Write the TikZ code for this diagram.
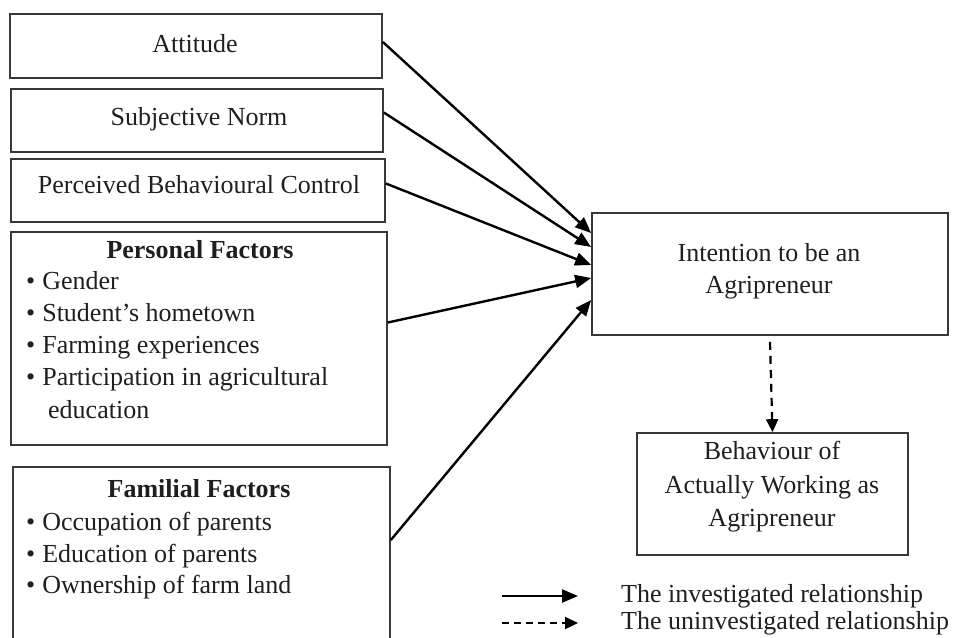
\documentclass[tikz,border=0pt]{standalone}
\usepackage{fontspec}
\setmainfont{Liberation Serif}
\usetikzlibrary{arrows.meta}
\begin{document}
\begin{tikzpicture}[x=1pt,y=-1pt,
  box/.style={draw=black!78,line width=1.7pt,rectangle,inner sep=0pt},
  txt/.style={font=\fontsize{26}{32.5}\selectfont,inner sep=0pt,text=black!88,anchor=base},
  lft/.style={txt,anchor=base west},
  rel/.style={line width=2.4pt,-{Triangle[length=16pt,width=13pt]}},
  unrel/.style={line width=2.2pt,dash pattern=on 8pt off 6pt,-{Triangle[length=13pt,width=12pt]}}]
\useasboundingbox (0,0) rectangle (955,637);
% boxes
\node[box,minimum width=372pt,minimum height=64pt] (att) at (196,46) {};
\node[box,minimum width=372pt,minimum height=63pt] (sn) at (197,120.5) {};
\node[box,minimum width=374pt,minimum height=63pt] (pbc) at (198,190.5) {};
\node[box,minimum width=376pt,minimum height=213pt] (pf) at (199,338.5) {};
\node[box,minimum width=377pt,minimum height=200pt] (ff) at (201.5,567) {};
\node[box,minimum width=356pt,minimum height=122pt] (int) at (770,274) {};
\node[box,minimum width=271pt,minimum height=122pt] (beh) at (772.5,494) {};
% texts
\node[txt] (tatt) at (195,52) {Attitude};
\node[txt] (tsn) at (199,125) {Subjective Norm};
\node[txt] (tpbc) at (199,193) {Perceived Behavioural Control};
\node[txt,font=\fontsize{26}{32.5}\selectfont\bfseries] (tpf) at (200,258) {Personal Factors};
\node[lft] (pf1) at (26,289) {\textbullet\hspace{7pt}Gender};
\node[lft] (pf2) at (26,321) {\textbullet\hspace{7pt}Student’s hometown};
\node[lft] (pf3) at (26,353) {\textbullet\hspace{7pt}Farming experiences};
\node[lft] (pf4) at (26,385) {\textbullet\hspace{7pt}Participation in agricultural};
\node[lft] (pf5) at (48,418) {education};
\node[txt,font=\fontsize{26}{32.5}\selectfont\bfseries] (tff) at (199,497) {Familial Factors};
\node[lft] (ff1) at (26,530) {\textbullet\hspace{7pt}Occupation of parents};
\node[lft] (ff2) at (26,562) {\textbullet\hspace{7pt}Education of parents};
\node[lft] (ff3) at (26,593) {\textbullet\hspace{7pt}Ownership of farm land};
\node[txt] (tint1) at (769,261) {Intention to be an};
\node[txt] (tint2) at (769,293) {Agripreneur};
\node[txt] (tbeh1) at (772,459) {Behaviour of};
\node[txt] (tbeh2) at (772,493) {Actually Working as};
\node[txt] (tbeh3) at (772,526) {Agripreneur};
% connectors
\draw[rel] ([yshift=4pt]att.east) -- ([yshift=41pt]int.west);
\draw[rel] ([yshift=8pt]sn.east) -- ([yshift=27pt]int.west);
\draw[rel] ([yshift=7pt]pbc.east) -- ([yshift=9pt]int.west);
\draw[rel] ([yshift=16pt]pf.east) -- ([yshift=-4pt]int.west);
\draw[rel] ([yshift=27pt]ff.east) -- ([yshift=-26pt]int.west);
\draw[unrel] ([yshift=-6pt]int.south) -- (beh.north);
% legend
\coordinate (l1a) at (502,596);
\coordinate (l1b) at (578,596);
\coordinate (l2a) at (502,623);
\coordinate (l2b) at (578,623);
\draw[rel] (l1a) -- (l1b);
\draw[unrel,dash pattern=on 7pt off 5pt] (l2a) -- (l2b);
\node[lft] (lt1) at (621,602) {The investigated relationship};
\node[lft] (lt2) at (621,629) {The uninvestigated relationship};
\end{tikzpicture}
\end{document}
